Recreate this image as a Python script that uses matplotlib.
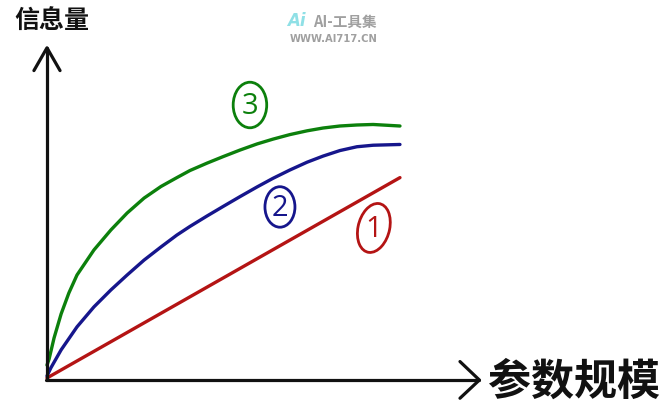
import matplotlib.pyplot as plt
import matplotlib.patches as patches

# x and y are arbitrary "scale" units.
red_x = [0, 10]
red_y = [0, 7.92]

blue_x = [0, 0.11, 0.40, 0.85, 1.33, 1.81, 2.27, 2.75, 3.23, 3.68, 4.05, 4.53,
          4.99, 5.47, 5.95, 6.40, 6.88, 7.37, 7.82, 8.30, 8.78, 9.24, 10]
blue_y = [0.08, 0.40, 1.11, 2.02, 2.81, 3.48, 4.07, 4.66, 5.18, 5.65, 5.99, 6.40,
          6.78, 7.17, 7.55, 7.89, 8.22, 8.53, 8.77, 8.99, 9.14, 9.20, 9.23]

green_x = [0, 0.06, 0.20, 0.40, 0.62, 0.85, 1.33, 1.81, 2.27, 2.75, 3.23, 3.68, 4.05,
           4.53, 4.99, 5.47, 5.95, 6.40, 6.88, 7.37, 7.82, 8.30, 8.78, 9.24, 10]
green_y = [0.51, 0.75, 1.58, 2.53, 3.36, 4.07, 5.06, 5.85, 6.52, 7.11, 7.57, 7.92, 8.20,
           8.49, 8.75, 9.01, 9.25, 9.44, 9.62, 9.77, 9.88, 9.96, 10.00, 10.02, 9.96]

# (label, color, centre x, centre y, width, height, angle)
circled_labels = [
    ("1", "#b41414", 9.26, 5.93, 0.9, 1.95, -8),
    ("2", "#16168c", 6.6, 6.76, 0.85, 1.6, 0),
    ("3", "#0c800c", 5.75, 10.79, 0.95, 1.8, 0),
]

y_label = "信息量"
x_label = "参数规模"

RED, BLUE, GREEN = "#b41414", "#16168c", "#0c800c"
CJK = ["Noto Sans CJK SC", "DejaVu Sans"]


def draw_axes(ax):
    # Axis lines with open chevron heads, like a pen sketch.
    kw = dict(color="#111111", lw=2.3, solid_capstyle="round", solid_joinstyle="round", zorder=3)
    ax.plot([0, 0], [-0.08, 13.05], **kw)
    ax.plot([-0.03, 12.25], [-0.08, -0.08], **kw)
    ax.plot([-0.37, 0, 0.37], [12.15, 13.05, 12.15], **kw)
    ax.plot([11.7, 12.25, 11.7], [0.65, -0.08, -0.8], **kw)


def draw_curves(ax):
    kw = dict(lw=2.4, solid_capstyle="round", solid_joinstyle="round", zorder=2)
    ax.plot(red_x, red_y, color=RED, **kw)
    ax.plot(blue_x, blue_y, color=BLUE, **kw)
    ax.plot(green_x, green_y, color=GREEN, **kw)


def draw_labels(ax):
    for text, color, cx, cy, w, h, ang in circled_labels:
        ell = patches.Ellipse((cx, cy), w, h, angle=ang, fill=False,
                              edgecolor=color, lw=2.0, zorder=4)
        ax.add_patch(ell)
        ax.text(cx, cy - 0.05, text, color=color, fontsize=21,
                family=["Open Sans", "DejaVu Sans"],
                ha="center", va="center", zorder=4)


fig = plt.figure(figsize=(6.7, 4.2), dpi=100)
ax = fig.add_axes([0, 0, 1, 1])
ax.set_xlim(-1.331, 17.65)
ax.set_ylim(-1.66, 14.94)
ax.axis("off")

draw_axes(ax)
draw_curves(ax)
draw_labels(ax)

fig.text(0.022, 0.948, y_label, family=CJK, fontsize=18, fontweight="bold",
         ha="left", va="center", color="#111111")
fig.text(0.729, 0.0905, x_label, family=CJK, fontsize=31, fontweight="bold",
         ha="left", va="center", color="#111111")

# Site watermark
fig.text(0.428, 0.949, "Ai", family="DejaVu Sans", fontsize=12, fontweight="bold",
         color="#8fe0e6", ha="left", va="center", style="italic")
fig.text(0.468, 0.949, "AI-工具集", family=CJK, fontsize=10.5, fontweight="bold",
         color="#a0a0a0", ha="left", va="center")
fig.text(0.433, 0.906, "WWW.AI717.CN", family="DejaVu Sans", fontsize=7.2,
         fontweight="bold", color="#a0a0a0", ha="left", va="center")

fig.savefig("out.png", dpi=100, facecolor="white")
plt.close()
